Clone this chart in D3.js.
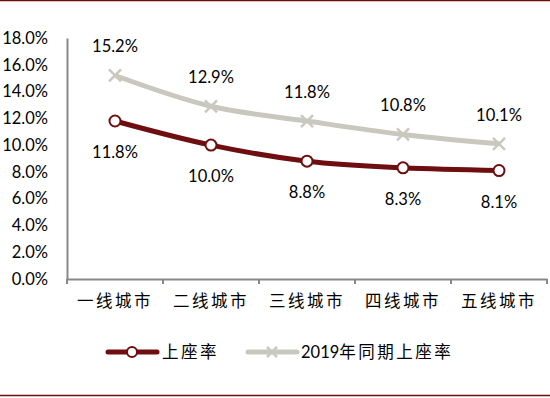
<!DOCTYPE html>
<html>
<head>
<meta charset="utf-8">
<script src="https://cdn.jsdelivr.net/npm/d3@7"></script>
<style>
  body { margin: 0; background: #fff; }
  svg text { font-family: Lato, "Noto Sans CJK SC", sans-serif; fill: #000; }
</style>
</head>
<body>
<script>
const categories = ["一线城市", "二线城市", "三线城市", "四线城市", "五线城市"];
const rate2020 = [11.8, 10.0, 8.8, 8.3, 8.1];
const rate2019 = [15.2, 12.9, 11.8, 10.8, 10.1];
const yTicks = [0, 2, 4, 6, 8, 10, 12, 14, 16, 18];
const seriesNames = ["上座率", "2019年同期上座率"];

const width = 550;
const height = 398;
const red = "#6e0e10";
const grey = "#c8c8bf";

const svg = d3
  .select("body")
  .append("svg")
  .attr("width", width)
  .attr("height", height);

// frame lines top and bottom
svg.append("line").attr("x1", 0).attr("x2", width).attr("y1", 0.5).attr("y2", 0.5)
  .attr("stroke", red).attr("stroke-width", 1.5);
svg.append("line").attr("x1", 0).attr("x2", width).attr("y1", 395.5).attr("y2", 395.5)
  .attr("stroke", red).attr("stroke-width", 1.5);

const x = d3.scaleBand().domain(categories).range([67, 547]);
const y = d3.scaleLinear().domain([0, 18]).range([279, 38]);

// y axis
const yAxis = svg.append("g").attr("transform", "translate(67,0)")
  .call(d3.axisLeft(y).tickValues(yTicks).tickSize(0).tickFormat(d => d.toFixed(1) + "%"));
yAxis.select(".domain").attr("stroke", "#888").attr("stroke-width", 2);
yAxis.selectAll("text").attr("x", -19).attr("font-size", 16.5).attr("font-family", "Lato");

// x axis
const xAxis = svg.append("g").attr("transform", "translate(0,279)")
  .call(d3.axisBottom(x).tickSize(0));
xAxis.select(".domain").attr("stroke", "#888").attr("stroke-width", 2);
xAxis.selectAll("text").attr("y", 16).attr("font-size", 16.5)
  .attr("letter-spacing", 2.5).attr("font-family", "Noto Sans CJK SC");
xAxis.selectAll(".bound")
  .data(d3.range(categories.length + 1))
  .enter()
  .append("line")
  .attr("x1", i => 67 + i * x.bandwidth())
  .attr("x2", i => 67 + i * x.bandwidth())
  .attr("y1", 0)
  .attr("y2", 5)
  .attr("stroke", "#888")
  .attr("stroke-width", 2);

const cx = d => x(d) + x.bandwidth() / 2;
const line = d3.line().x((d, i) => cx(categories[i])).y(d => y(d)).curve(d3.curveMonotoneX);

// 2019 series
svg.append("path").datum(rate2019).attr("d", line)
  .attr("fill", "none").attr("stroke", grey).attr("stroke-width", 5);
svg.selectAll(".xmark").data(rate2019).enter().append("path")
  .attr("transform", (d, i) => `translate(${cx(categories[i])},${y(d)})`)
  .attr("d", "M-6,-6L6,6M-6,6L6,-6")
  .attr("stroke", grey).attr("stroke-width", 2.5);
svg.selectAll(".lbl19").data(rate2019).enter().append("text")
  .attr("x", (d, i) => cx(categories[i]))
  .attr("y", d => y(d) - 23)
  .attr("text-anchor", "middle").attr("font-size", 16.5)
  .text(d => d.toFixed(1) + "%");

// 2020 series
svg.append("path").datum(rate2020).attr("d", line)
  .attr("fill", "none").attr("stroke", red).attr("stroke-width", 5);
svg.selectAll(".cmark").data(rate2020).enter().append("circle")
  .attr("cx", (d, i) => cx(categories[i]))
  .attr("cy", d => y(d))
  .attr("r", 5.5)
  .attr("fill", "#fff").attr("stroke", red).attr("stroke-width", 2);
svg.selectAll(".lbl20").data(rate2020).enter().append("text")
  .attr("x", (d, i) => cx(categories[i]))
  .attr("y", d => y(d) + 37)
  .attr("text-anchor", "middle").attr("font-size", 16.5)
  .text(d => d.toFixed(1) + "%");

// legend
const lg = svg.append("g");
lg.append("line").attr("x1", 108).attr("x2", 157).attr("y1", 352).attr("y2", 352)
  .attr("stroke", red).attr("stroke-width", 5).attr("stroke-linecap", "round");
lg.append("circle").attr("cx", 132).attr("cy", 352).attr("r", 5)
  .attr("fill", "#fff").attr("stroke", red).attr("stroke-width", 2);
lg.append("text").attr("x", 162).attr("y", 358).attr("font-size", 16.5)
  .attr("letter-spacing", 2.5).attr("font-family", "Noto Sans CJK SC").text(seriesNames[0]);
lg.append("line").attr("x1", 248).attr("x2", 297).attr("y1", 352).attr("y2", 352)
  .attr("stroke", grey).attr("stroke-width", 5).attr("stroke-linecap", "round");
lg.append("path").attr("transform", "translate(272,352)").attr("d", "M-5,-5L5,5M-5,5L5,-5")
  .attr("stroke", grey).attr("stroke-width", 2.5);
lg.append("text").attr("x", 301).attr("y", 358).attr("font-size", 16.5)
  .text("2019")
  .append("tspan").attr("letter-spacing", 2.5).attr("font-family", "Noto Sans CJK SC")
  .text(seriesNames[1].slice(4));
</script>
</body>
</html>
